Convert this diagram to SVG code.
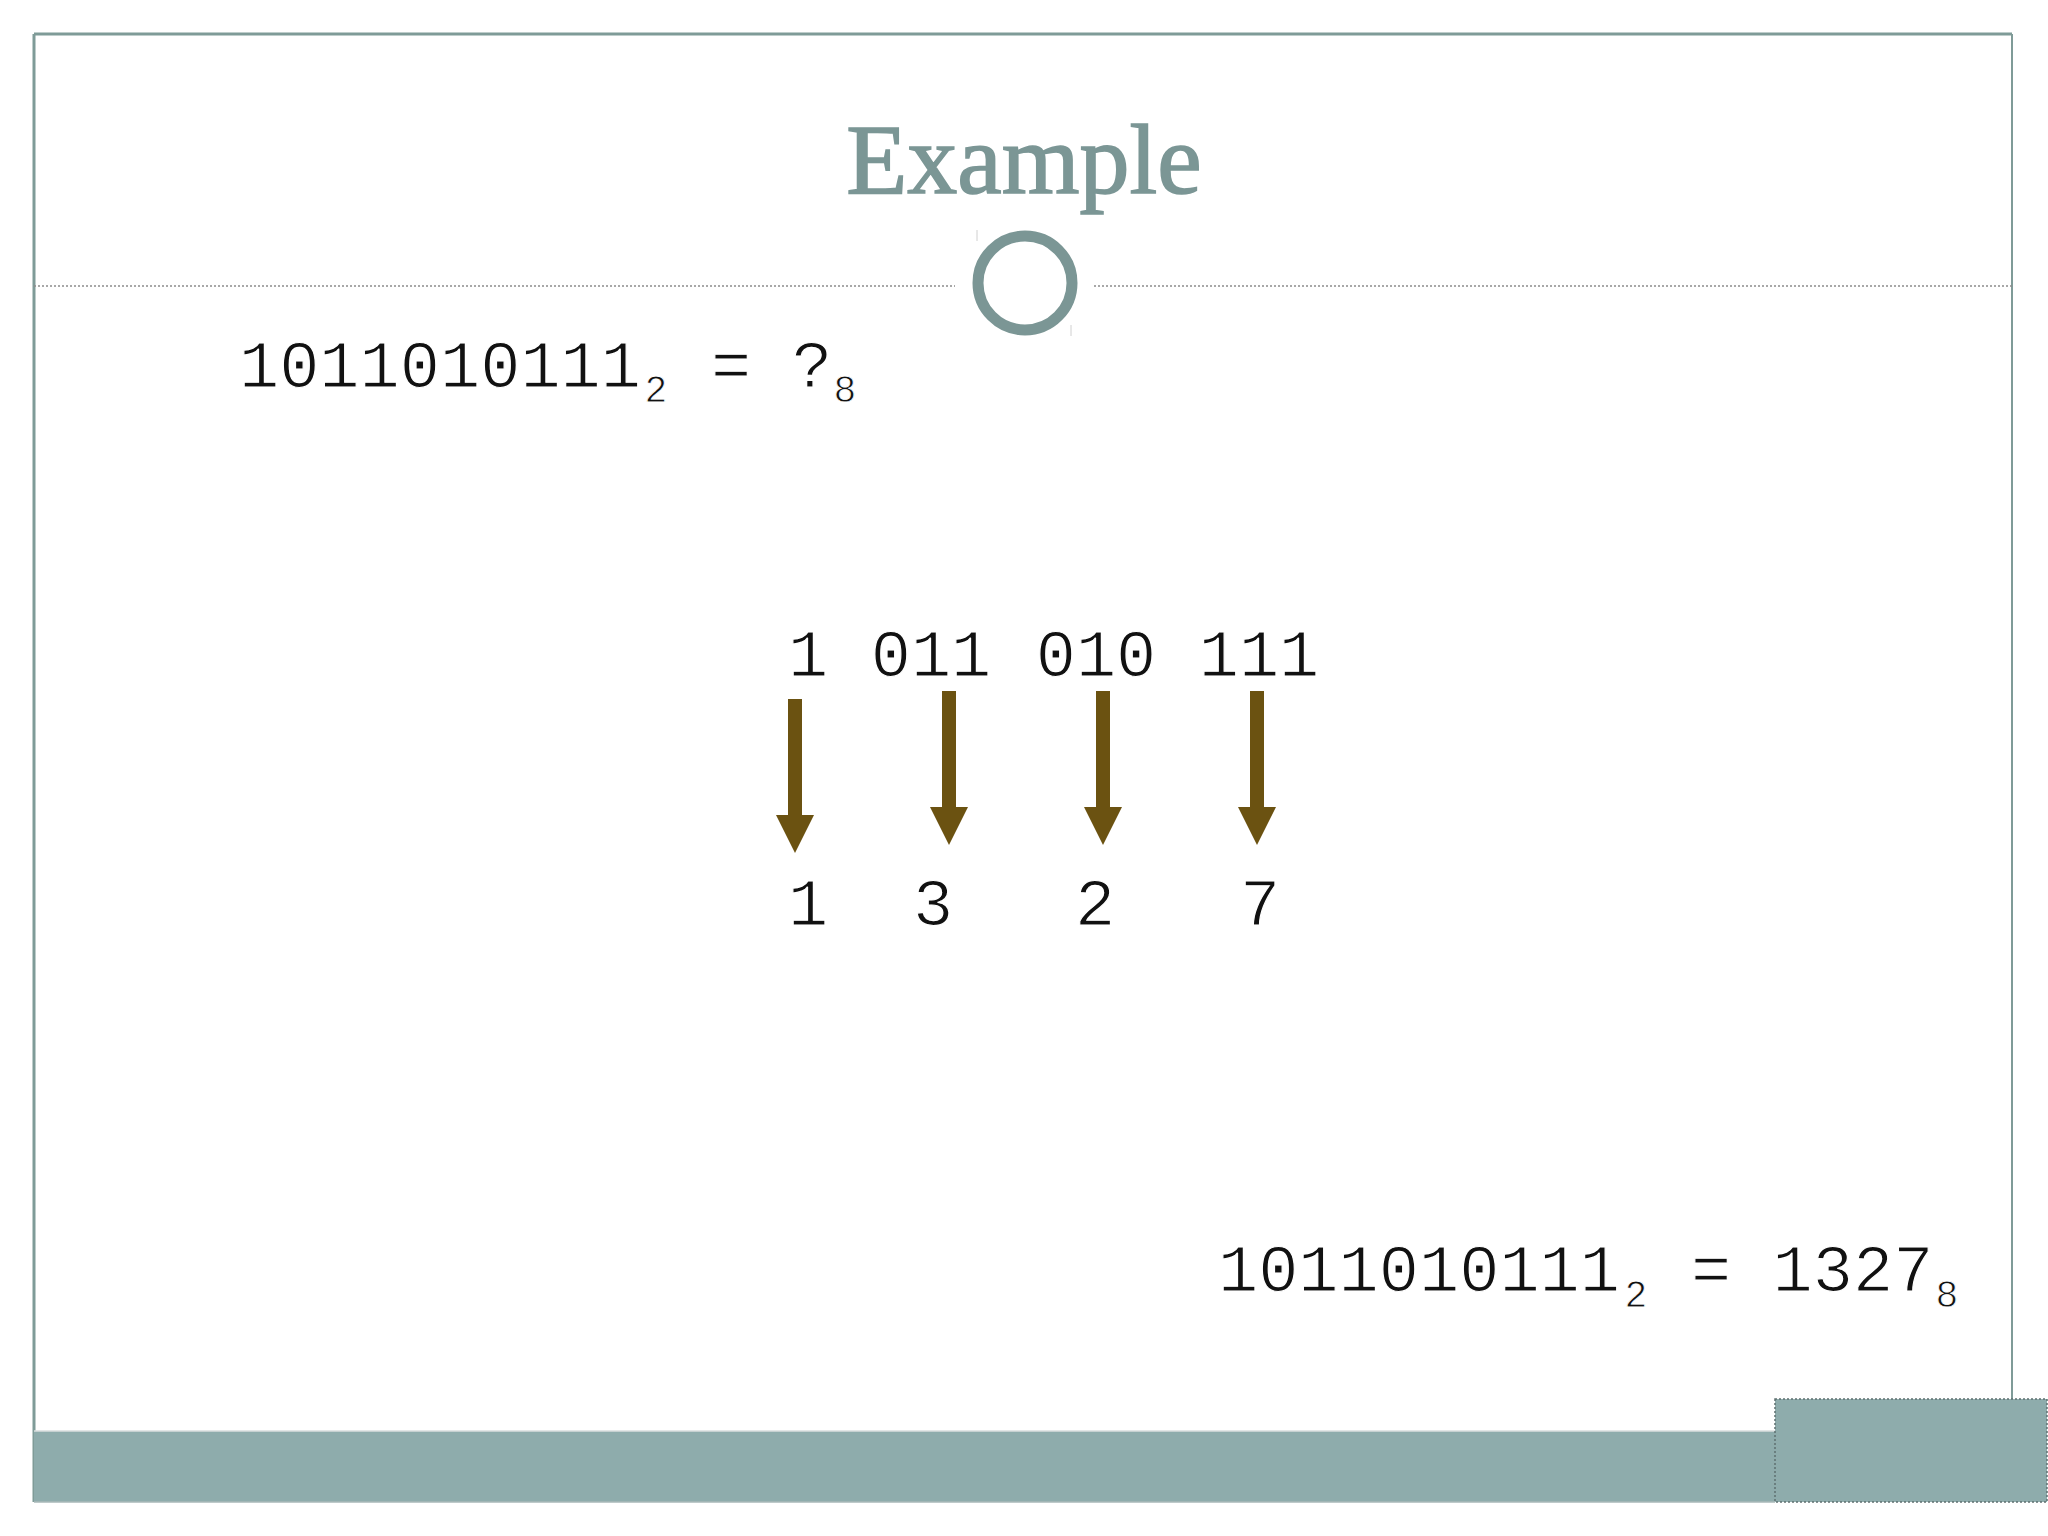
<svg xmlns="http://www.w3.org/2000/svg" xmlns:xlink="http://www.w3.org/1999/xlink" width="2048" height="1536" viewBox="0 0 2048 1536">
  <style>
    .mono { font-family: "Liberation Mono", "DejaVu Sans Mono", monospace; fill: #111; stroke: #ffffff; stroke-width: 1.2px; text-anchor: middle; }
    .big { font-size: 67px; }
    .sub { font-size: 38px; stroke-width: 0.8px; }
    .title { font-family: "Liberation Serif", "DejaVu Serif", serif; font-size: 100px; fill: #7b9695; stroke: #7b9695; stroke-width: 1.6px; }
    .arrow { fill: #6b5211; }
  </style>
  <defs>
    <path id="arrowShape" class="arrow" d="M -7 0 L 7 0 L 7 116 L 19 116 L 0 154 L -19 116 L -7 116 Z"/>
  </defs>
  <rect x="0" y="0" width="2048" height="1536" fill="#ffffff"/>

  <!-- frame -->
  <g id="frame" fill="none" stroke="#7f9b98">
    <line x1="34" y1="34" x2="2012" y2="34" stroke-width="3"/>
    <line x1="34" y1="34" x2="34" y2="1502" stroke-width="3"/>
    <line x1="2012" y1="34" x2="2012" y2="1400" stroke-width="2"/>
  </g>

  <!-- title -->
  <g id="title">
    <text class="title" x="1024" y="193" text-anchor="middle">Example</text>
  </g>

  <!-- divider with ring -->
  <g id="divider">
    <line x1="34" y1="286" x2="955" y2="286" stroke="#8c8c8c" stroke-width="1.5" stroke-dasharray="2 2"/>
    <line x1="1094" y1="286" x2="2012" y2="286" stroke="#8c8c8c" stroke-width="1.5" stroke-dasharray="2 2"/>
    <line x1="977" y1="230" x2="977" y2="241" stroke="#d0d0d0" stroke-width="1"/>
    <line x1="1071" y1="325" x2="1071" y2="336" stroke="#d0d0d0" stroke-width="1"/>
    <circle cx="1025" cy="283" r="47" fill="#ffffff" stroke="#7b9695" stroke-width="11"/>
  </g>

  <!-- question -->
  <g id="question">
    <text class="mono big" x="440" y="387">1011010111</text>
    <text class="mono sub" x="656" y="402">2</text>
    <text class="mono big" x="731" y="387">=</text>
    <text class="mono big" x="812" y="387">?</text>
    <text class="mono sub" x="845" y="402">8</text>
  </g>

  <!-- grouped binary -->
  <g id="groups">
    <text class="mono big" x="808" y="676">1</text>
    <text class="mono big" x="931" y="676">011</text>
    <text class="mono big" x="1096" y="676">010</text>
    <text class="mono big" x="1259" y="676">111</text>
  </g>

  <!-- octal digits -->
  <g id="digits">
    <text class="mono big" x="808" y="925">1</text>
    <text class="mono big" x="933" y="925">3</text>
    <text class="mono big" x="1095" y="925">2</text>
    <text class="mono big" x="1260" y="925">7</text>
  </g>

  <!-- connectors -->
  <g id="connectors">
    <use xlink:href="#arrowShape" x="795" y="699"/>
    <use xlink:href="#arrowShape" x="949" y="691"/>
    <use xlink:href="#arrowShape" x="1103" y="691"/>
    <use xlink:href="#arrowShape" x="1257" y="691"/>
  </g>

  <!-- answer -->
  <g id="answer">
    <text class="mono big" x="1419" y="1291">1011010111</text>
    <text class="mono sub" x="1636" y="1307">2</text>
    <text class="mono big" x="1711" y="1291">=</text>
    <text class="mono big" x="1853" y="1291">1327</text>
    <text class="mono sub" x="1947" y="1307">8</text>
  </g>

  <!-- footer -->
  <g id="footer">
    <rect x="34" y="1431" width="1741" height="71" fill="#8eacac"/>
    <line x1="34" y1="1431" x2="1775" y2="1431" stroke="#d8dede" stroke-width="1.5"/>
    <line x1="34" y1="1502" x2="1775" y2="1502" stroke="#a9b9b8" stroke-width="1.5"/>
    <rect x="1775" y="1399" width="272" height="103" fill="#8eacac" stroke="#5f7070" stroke-width="1.5" stroke-dasharray="2 2"/>
  </g>
</svg>
